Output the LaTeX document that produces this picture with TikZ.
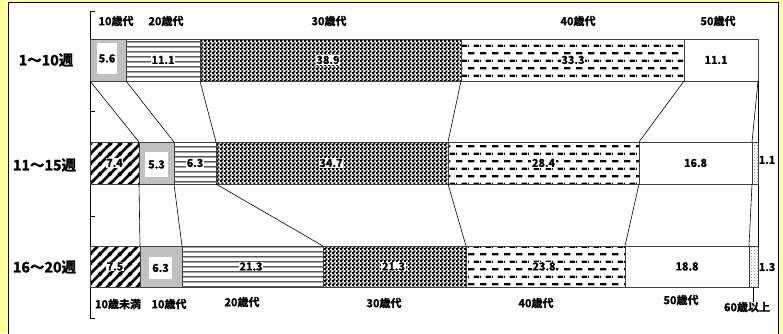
\documentclass[tikz,border=0pt]{standalone}
\usepackage{fontspec}
\setmainfont{Noto Sans CJK JP}
\newfontfamily\jpbf{Noto Sans CJK JP Bold}[FakeBold=1.5]
\usetikzlibrary{patterns}
\definecolor{yellowbg}{RGB}{255,255,153}
\definecolor{segray}{RGB}{192,192,192}
\pgfdeclarepatternformonly{diagstripes}{\pgfqpoint{0pt}{0pt}}{\pgfqpoint{10pt}{10pt}}{\pgfqpoint{10pt}{10pt}}{%
  \pgfsetlinewidth{3pt}%
  \pgfpathmoveto{\pgfqpoint{-2pt}{-2pt}}\pgfpathlineto{\pgfqpoint{12pt}{12pt}}%
  \pgfpathmoveto{\pgfqpoint{-2pt}{8pt}}\pgfpathlineto{\pgfqpoint{2pt}{12pt}}%
  \pgfpathmoveto{\pgfqpoint{8pt}{-2pt}}\pgfpathlineto{\pgfqpoint{12pt}{2pt}}%
  \pgfusepath{stroke}}
\pgfdeclarepatternformonly{hlinesp}{\pgfqpoint{0pt}{0pt}}{\pgfqpoint{4pt}{5pt}}{\pgfqpoint{4pt}{5pt}}{%
  \pgfsetlinewidth{1.3pt}%
  \pgfpathmoveto{\pgfqpoint{-1pt}{2.5pt}}\pgfpathlineto{\pgfqpoint{5pt}{2.5pt}}%
  \pgfusepath{stroke}}
\pgfdeclarepatternformonly{finechecker}{\pgfqpoint{0pt}{0pt}}{\pgfqpoint{4pt}{4pt}}{\pgfqpoint{4pt}{4pt}}{%
  \pgfpathrectangle{\pgfqpoint{-0.3pt}{-0.3pt}}{\pgfqpoint{2.6pt}{2.6pt}}%
  \pgfpathrectangle{\pgfqpoint{1.7pt}{1.7pt}}{\pgfqpoint{2.6pt}{2.6pt}}%
  \pgfpathrectangle{\pgfqpoint{-0.3pt}{3.7pt}}{\pgfqpoint{0.6pt}{0.6pt}}%
  \pgfpathrectangle{\pgfqpoint{3.7pt}{-0.3pt}}{\pgfqpoint{0.6pt}{0.6pt}}%
  \pgfusepath{fill}}
\pgfdeclarepatternformonly{dashrows}{\pgfqpoint{0pt}{0pt}}{\pgfqpoint{12pt}{15.4pt}}{\pgfqpoint{12pt}{15.4pt}}{%
  \pgfsetlinewidth{2.2pt}%
  \pgfpathmoveto{\pgfqpoint{0pt}{3.85pt}}\pgfpathlineto{\pgfqpoint{7pt}{3.85pt}}%
  \pgfpathmoveto{\pgfqpoint{6pt}{11.55pt}}\pgfpathlineto{\pgfqpoint{12pt}{11.55pt}}%
  \pgfpathmoveto{\pgfqpoint{0pt}{11.55pt}}\pgfpathlineto{\pgfqpoint{1pt}{11.55pt}}%
  \pgfusepath{stroke}}
\begin{document}
\begin{tikzpicture}[x=1pt,y=-1pt,
  bline/.style={draw=black!75,line width=0.7pt},
  conn/.style={draw=black,line width=0.6pt},
  val/.style={fill=white,inner sep=0.7pt,font=\jpbf\fontsize{11}{12}\selectfont,text height=8pt,text depth=0.2pt},
  rval/.style={inner sep=0pt,font=\jpbf\fontsize{11}{12}\selectfont},
  grayval/.style={val,inner sep=0pt},
  cat/.style={inner sep=0pt,font=\jpbf\fontsize{11}{12}\selectfont},
  rowlab/.style={inner sep=0pt,font=\jpbf\fontsize{14.5}{15}\selectfont},
  pU/.style={bline,pattern=diagstripes},
  pA/.style={bline,fill=segray},
  pB/.style={bline,pattern=hlinesp},
  pC/.style={bline,pattern=finechecker},
  pD/.style={bline,pattern=dashrows},
  pE/.style={bline,fill=white},
  pF/.style={bline,pattern=crosshatch dots,pattern color=black!45}]
\useasboundingbox (0,0) rectangle (783,333);
\fill[yellowbg] (0,0) rectangle (783,333);
\draw[fill=white,draw=black,line width=0.8pt] (8.5,2.5) rectangle (778.5,345);

% axis
\coordinate (axT) at (90,11);
\coordinate (axB) at (90,318);
\draw[black,line width=0.7pt] (axT) -- (axB);
\foreach \yy in {11,111,216,318} \draw[black,line width=0.7pt] (90,\yy) -- (95,\yy);

% bar 1
\path[pA] (90,39) rectangle (126,81);
\path[pB] (126,39) rectangle (200,81);
\path[pC] (200,39) rectangle (461,81);
\path[pD] (461,39) rectangle (684,81);
\path[pE] (684,39) rectangle (758,81);
% bar 2
\path[pU] (90,142) rectangle (139,184);
\path[pA] (139,142) rectangle (174,184);
\path[pB] (174,142) rectangle (216,184);
\path[pC] (216,142) rectangle (448,184);
\path[pD] (448,142) rectangle (639,184);
\path[pE] (639,142) rectangle (752,184);
\path[pF] (752,142) rectangle (758,184);
% bar 3
\path[pU] (90,246) rectangle (140,287);
\path[pA] (140,246) rectangle (182,287);
\path[pB] (182,246) rectangle (323,287);
\path[pC] (323,246) rectangle (466,287);
\path[pD] (466,246) rectangle (625,287);
\path[pE] (625,246) rectangle (749,287);
\path[pF] (749,246) rectangle (758,287);

% boundary coordinates
\foreach \n/\x in {0/90,1/126,2/200,3/461,4/684,5/758} \coordinate (a\n) at (\x,81);
\foreach \n/\x in {0/90,1/139,2/174,3/216,4/448,5/639,6/752,7/758} {\coordinate (bt\n) at (\x,142); \coordinate (bb\n) at (\x,184);}
\foreach \n/\x in {0/90,1/140,2/182,3/323,4/466,5/625,6/749,7/758} \coordinate (c\n) at (\x,246);

% connectors
\draw[conn] (a0) -- (bt1);
\draw[conn] (a1) -- (bt2);
\draw[conn] (a2) -- (bt3);
\draw[conn] (a3) -- (bt4);
\draw[conn] (a4) -- (bt5);
\draw[conn] (a5) -- (bt6);
\draw[conn] (a5) -- (bt7);
\foreach \n in {1,...,7} \draw[conn] (bb\n) -- (c\n);

% value labels bar 1
\node[grayval,minimum width=20pt,minimum height=31pt] (v11) at (107,58.5) {5.6};
\node[val] (v12) at (163,60) {11.1};
\node[val] (v13) at (328,60) {38.9};
\node[val] (v14) at (573,60) {33.3};
\node[val,fill=none] (v15) at (716,60) {11.1};
% bar 2
\node[val] (v20) at (114.5,163) {7.4};
\node[grayval,minimum width=23pt,minimum height=25pt] (v21) at (156.5,164.5) {5.3};
\node[val] (v22) at (195,163) {6.3};
\node[val] (v23) at (331,163) {34.7};
\node[val] (v24) at (543.5,163) {28.4};
\node[val,fill=none] (v25) at (695.5,163) {16.8};
\node[rval] (v26) at (767,160) {1.1};
% bar 3
\node[val] (v30) at (115,266.5) {7.5};
\node[grayval,minimum width=23pt,minimum height=22pt] (v31) at (160.5,268) {6.3};
\node[val] (v32) at (251,266.5) {21.3};
\node[val] (v33) at (393.5,266.5) {21.3};
\node[val] (v34) at (544,266.5) {23.8};
\node[val,fill=none] (v35) at (687,266.5) {18.8};
\node[rval] (v36) at (767,267) {1.3};

% row labels
\node[rowlab] (r1) at (46,60) {1～10週};
\node[rowlab] (r2) at (44.5,165) {11～15週};
\node[rowlab] (r3) at (44.5,267) {16～20週};

% top category labels
\node[cat] (t1) at (116,21) {10歳代};
\node[cat] (t2) at (166,21) {20歳代};
\node[cat] (t3) at (329,21) {30歳代};
\node[cat] (t4) at (578,21) {40歳代};
\node[cat] (t5) at (718,21) {50歳代};

% bottom category labels
\node[cat] (u0) at (118,304) {10歳未満};
\node[cat] (u1) at (169,304) {10歳代};
\node[cat] (u2) at (242,302) {20歳代};
\node[cat] (u3) at (384,303) {30歳代};
\node[cat] (u4) at (536,303) {40歳代};
\node[cat] (u5) at (681,300) {50歳代};
\node[cat] (u6) at (747,307) {60歳以上};
\coordinate (ld) at (753.5,287);
\draw[black,line width=0.6pt] (ld) -- (u6.north -| ld);
\end{tikzpicture}
\end{document}
